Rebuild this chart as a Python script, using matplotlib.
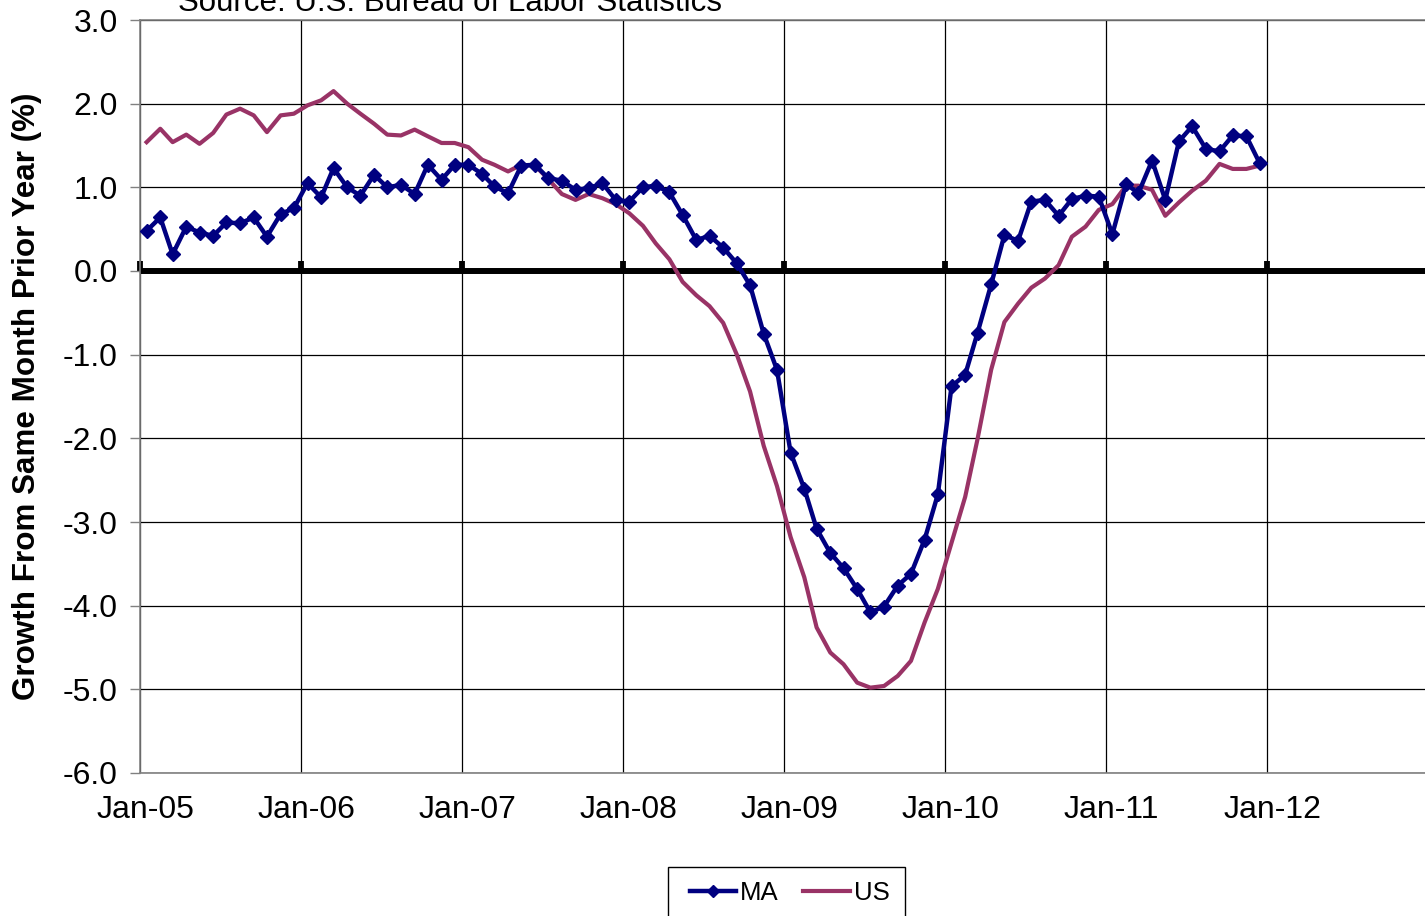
import numpy as np
import pandas as pd
import matplotlib
matplotlib.use("Agg")
import matplotlib.pyplot as plt
import matplotlib.dates as mdates
from matplotlib.patches import Rectangle

plt.rcParams['font.family'] = ['Liberation Sans', 'DejaVu Sans']
plt.rcParams['axes.unicode_minus'] = False

# ---------------- DATA ----------------
months = pd.date_range("2005-01-01", "2011-12-01", freq="MS")

ma_growth = [
    0.48, 0.64, 0.20, 0.53, 0.46, 0.42, 0.58, 0.57, 0.64, 0.41, 0.68, 0.75,
    1.05, 0.88, 1.23, 1.00, 0.90, 1.15, 1.00, 1.03, 0.92, 1.27, 1.09, 1.27,
    1.27, 1.16, 1.01, 0.93, 1.26, 1.27, 1.11, 1.08, 0.97, 0.99, 1.05, 0.85,
    0.83, 1.00, 1.02, 0.94, 0.67, 0.37, 0.42, 0.28, 0.09, -0.17, -0.75, -1.18,
    -2.17, -2.60, -3.08, -3.37, -3.55, -3.80, -4.08, -4.01, -3.76, -3.62, -3.21, -2.67,
    -1.38, -1.24, -0.74, -0.16, 0.43, 0.36, 0.83, 0.85, 0.66, 0.86, 0.90, 0.89,
    0.44, 1.04, 0.93, 1.32, 0.85, 1.55, 1.73, 1.46, 1.43, 1.62, 1.61, 1.29,
]

us_growth = [
    1.54, 1.70, 1.54, 1.63, 1.52, 1.65, 1.87, 1.94, 1.86, 1.66, 1.86, 1.88,
    1.98, 2.04, 2.15, 2.00, 1.88, 1.76, 1.63, 1.62, 1.69, 1.61, 1.53, 1.53,
    1.48, 1.33, 1.27, 1.19, 1.27, 1.26, 1.10, 0.92, 0.85, 0.92, 0.87, 0.80,
    0.69, 0.54, 0.33, 0.14, -0.13, -0.29, -0.42, -0.62, -1.00, -1.44, -2.09, -2.57,
    -3.18, -3.66, -4.26, -4.56, -4.70, -4.92, -4.98, -4.96, -4.84, -4.66, -4.20, -3.80,
    -3.25, -2.70, -2.01, -1.18, -0.61, -0.39, -0.20, -0.09, 0.07, 0.41, 0.53, 0.73,
    0.80, 1.02, 1.02, 0.97, 0.66, 0.82, 0.96, 1.08, 1.28, 1.22, 1.22, 1.26,
]

y_ticks = [3.0, 2.0, 1.0, 0.0, -1.0, -2.0, -3.0, -4.0, -5.0, -6.0]

# ---------------- PLOT ----------------
W, H = 1425, 916
fig = plt.figure(figsize=(W / 100, H / 100), dpi=100)
ax = fig.add_axes([140 / W, 1 - 773 / H, (1428 - 140) / W, 753 / H])

# points sit in the middle of each month
x = months + pd.Timedelta(days=15)

ax.plot(x, us_growth, color="#993366", lw=3.0, label="US", zorder=3)
ax.plot(x, ma_growth, color="#000080", lw=3.2, marker="D", markersize=7.5,
        label="MA", zorder=4)

ax.set_xlim(pd.Timestamp("2005-01-01"), pd.Timestamp("2013-01-01"))
ax.set_ylim(-6, 3)
ax.set_yticks(y_ticks)
ax.yaxis.set_major_formatter(plt.FuncFormatter(lambda v, p: f"{v:.1f}"))

# gridlines on year boundaries, labels slightly right of them
ax.xaxis.set_major_locator(mdates.YearLocator())
ax.xaxis.set_major_formatter(plt.NullFormatter())
ax.xaxis.set_minor_locator(mdates.YearLocator(month=1, day=14))
ax.xaxis.set_minor_formatter(mdates.DateFormatter("%b-%y"))
ax.tick_params(axis="x", which="major", length=0)
ax.tick_params(axis="x", which="minor", length=0, pad=16, labelsize=23)
ax.tick_params(axis="y", length=7, width=1, color="#808080", pad=9, labelsize=23)

ax.grid(True, axis="both", which="major", color="black", lw=0.9)
ax.set_axisbelow(True)
for s in ax.spines.values():
    s.set_color("#808080")
    s.set_linewidth(1.2)

# thick category axis crossing at zero
ax.axhline(0, color="black", lw=4.3, zorder=2)
sec = ax.secondary_xaxis(6 / 9)
sec.xaxis.set_major_locator(mdates.YearLocator())
sec.xaxis.set_major_formatter(plt.NullFormatter())
sec.tick_params(axis="x", direction="out", length=7, width=4.2, color="black")
sec.spines["bottom"].set_visible(False)

fig.text(27 / W, 1 - 396 / H, "Growth From Same Month Prior Year (%)",
         rotation=90, ha="center", va="center", fontsize=22.6, fontweight="bold")
fig.text(178 / W, 1 - 11 / H, "Source: U.S. Bureau of Labor Statistics",
         ha="left", va="baseline", fontsize=22.5)

# legend box (Excel style, runs off the bottom edge)
fig.patches.append(Rectangle((668 / W, -0.01), (905 - 668) / W, 1 - 867 / H + 0.01,
                             transform=fig.transFigure, fill=False,
                             edgecolor="black", lw=1.0))
handles, labels = ax.get_legend_handles_labels()
leg = fig.legend(handles[::-1], labels[::-1], loc="center left",
                 bbox_to_anchor=(690 / W, 1 - 893 / H), ncol=2, fontsize=18.5,
                 frameon=False, handlelength=1.8, handletextpad=0.16,
                 columnspacing=0.95, borderpad=0, borderaxespad=0,
                 markerscale=0.8)

fig.savefig("out.png", dpi=100)
